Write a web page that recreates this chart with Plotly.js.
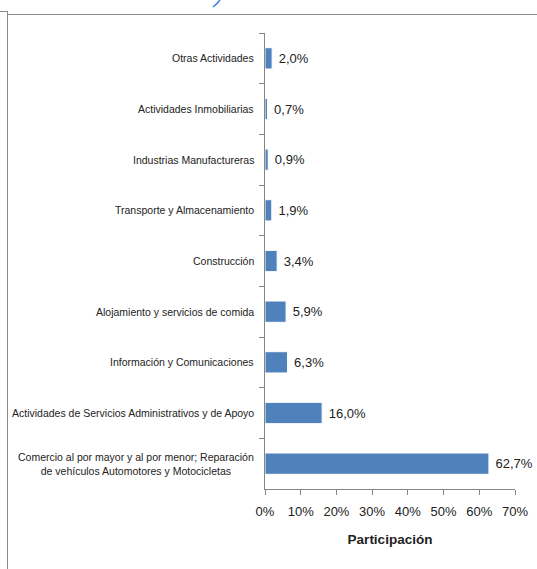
<!DOCTYPE html>
<html>
<head>
<meta charset="utf-8">
<script src="https://cdn.plot.ly/plotly-3.0.1.min.js"></script>
<style>
  html, body { margin: 0; padding: 0; background: #fff; }
  #wrap { position: relative; width: 537px; height: 569px; overflow: hidden; }
  #chart { position: absolute; left: 0; top: 0; width: 537px; height: 569px; }
  .deco { position: absolute; background: #8a8a8a; }
</style>
</head>
<body>
<div id="wrap">
  <div id="chart"></div>
  <div class="deco" style="left:0;top:11px;width:8px;height:1px;"></div>
  <div class="deco" style="left:7px;top:11px;width:1px;height:558px;"></div>
  <div class="deco" style="left:7px;top:14px;width:530px;height:1px;"></div>
  <svg style="position:absolute;left:205px;top:0;" width="20" height="10"><path d="M 8 7 Q 12 4 15 0" stroke="#3d7fd6" stroke-width="1.5" fill="none"/></svg>
</div>
<script>
const categories = [
  "Otras Actividades",
  "Actividades Inmobiliarias",
  "Industrias Manufactureras",
  "Transporte y Almacenamiento",
  "Construcción",
  "Alojamiento y servicios de comida",
  "Información y Comunicaciones",
  "Actividades de Servicios Administrativos y de Apoyo",
  "Comercio al por mayor y al por menor; Reparación<br>de vehículos Automotores y Motocicletas"
];
const values = [2.0, 0.7, 0.9, 1.9, 3.4, 5.9, 6.3, 16.0, 62.7];
const tickVals = [0, 10, 20, 30, 40, 50, 60, 70];
const tickText = ["0%", "10%", "20%", "30%", "40%", "50%", "60%", "70%"];
const xTitle = "Participación";

const FONT = "'Liberation Sans Narrow', 'Liberation Sans', Arial, sans-serif";
const labels = values.map(v => " " + v.toFixed(1).replace('.', ',') + "%");

const trace = {
  type: 'bar',
  orientation: 'h',
  x: values,
  y: categories,
  text: labels,
  textposition: 'outside',
  cliponaxis: false,
  textfont: { family: FONT, size: 13, color: '#222' },
  marker: { color: '#4F81BD', line: { color: '#ffffff', width: 1 } },
  width: 0.42,
  hoverinfo: 'none'
};

const annotations = categories.map(c => ({
  xref: 'paper', yref: 'y', x: 0, y: c,
  xanchor: 'right', yanchor: 'middle',
  xshift: -9, align: 'center', showarrow: false,
  text: c,
  font: { family: FONT, size: 10.5, color: '#222' }
}));

const layout = {
  width: 537, height: 569,
  margin: { l: 265, r: 22, t: 33, b: 80 },
  paper_bgcolor: 'rgba(0,0,0,0)',
  plot_bgcolor: 'rgba(0,0,0,0)',
  showlegend: false,
  font: { family: FONT, color: '#222' },
  xaxis: {
    range: [0, 70],
    tickvals: tickVals,
    ticktext: tickText,
    showgrid: false,
    zeroline: false,
    showline: true,
    linecolor: '#868686',
    linewidth: 1,
    ticks: 'outside',
    ticklen: 5,
    tickcolor: '#868686',
    ticklabelstandoff: 5,
    tickfont: { family: FONT, size: 13, color: '#222' },
    title: { text: xTitle, font: { family: FONT, size: 13.5, color: '#222', weight: 'bold' }, standoff: 16 }
  },
  yaxis: {
    type: 'category',
    autorange: 'reversed',
    showticklabels: false,
    showgrid: false,
    zeroline: false,
    showline: true,
    linecolor: '#868686',
    linewidth: 1,
    ticks: 'outside',
    ticklen: 5,
    tickcolor: '#868686',
    tickson: 'boundaries'
  },
  annotations: annotations
};

Plotly.newPlot('chart', [trace], layout, { staticPlot: true, displayModeBar: false });
</script>
</body>
</html>
